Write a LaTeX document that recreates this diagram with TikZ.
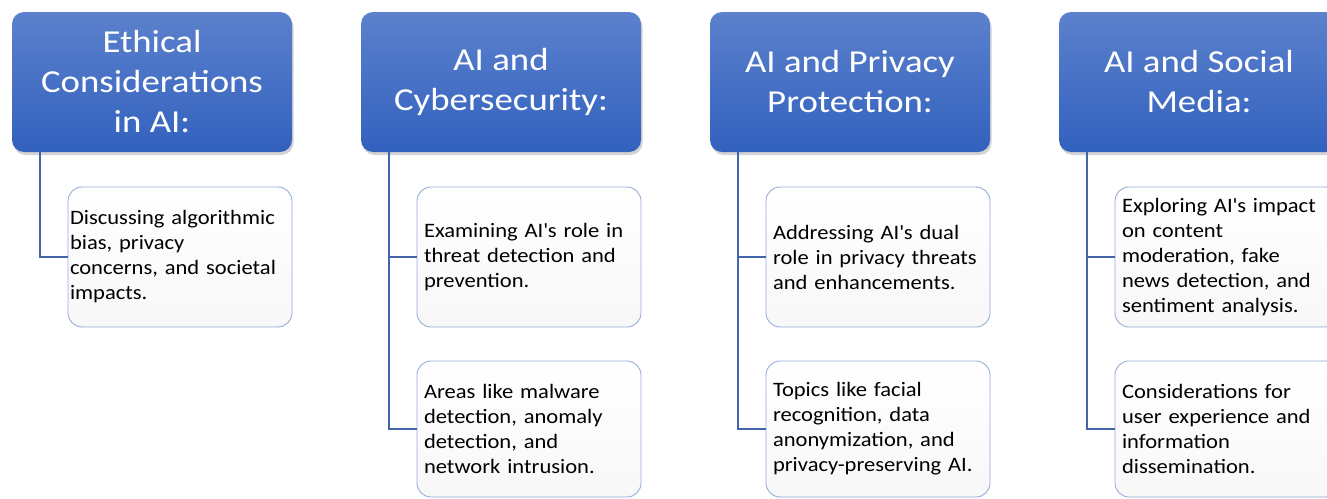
\documentclass[tikz,border=0pt]{standalone}
\usepackage{fontspec}
\setmainfont{Carlito}[FakeStretch=1.15]
\newfontfamily\childfont{Carlito}[FakeStretch=1.10]
\newcommand\childtext{\childfont\fontsize{20.5}{25}\selectfont\hyphenpenalty=10000 \exhyphenpenalty=10000\relax}
\usetikzlibrary{shadows}
\definecolor{HeaderTop}{RGB}{92,129,205}
\definecolor{HeaderBottom}{RGB}{50,97,190}
\definecolor{ChildLine}{RGB}{150,172,215}
\definecolor{LinkLine}{RGB}{68,100,170}
\tikzset{
    header box/.style={
        rounded corners=12pt, top color=HeaderTop, bottom color=HeaderBottom,
        text=white, minimum width=280pt, minimum height=140pt, align=center,
        font=\fontsize{32}{40}\selectfont,
        drop shadow={shadow xshift=1.5pt, shadow yshift=-3pt, opacity=0.35}
    },
    child box/.style={
        draw=ChildLine, line width=0.9pt, rounded corners=14pt,
        top color=white, bottom color=black!3, text=black,
        text width=210pt, inner xsep=7pt, minimum height=140pt, align=left,
        font=\childtext
    },
    link/.style={draw=LinkLine, line width=1.9pt}
}

\begin{document}
\begin{tikzpicture}[x=1pt, y=-1pt]

\useasboundingbox (0,0) rectangle (1327,498);

% Cabeceras
\node[header box] (h1) at (152, 82) {Ethical\\Considerations\\in AI:};
\node[header box] (h2) at (501, 82) {AI and\\Cybersecurity:};
\node[header box] (h3) at (850, 82) {AI and Privacy\\Protection:};
\node[header box] (h4) at (1199, 82) {AI and Social\\Media:};

% Cajas hijas
\node[child box, text width=220pt, inner xsep=2pt] (c1) at (180, 257)
    {Discussing algorithmic\\bias, privacy\\concerns, and societal\\impacts.};
\node[child box] (c2a) at (529, 257)
    {Examining AI\textquotesingle s role in\\threat detection and\\prevention.};
\node[child box, minimum height=136pt] (c2b) at (529, 429)
    {Areas like malware\\detection, anomaly\\detection, and\\network intrusion.};
\node[child box] (c3a) at (878, 257)
    {Addressing AI\textquotesingle s dual\\role in privacy threats\\and enhancements.};
\node[child box, minimum height=136pt] (c3b) at (878, 429)
    {Topics like facial\\recognition, data\\anonymization, and\\privacy-preserving AI.};
\node[child box] (c4a) at (1227, 257)
    {Exploring AI\textquotesingle s impact\\on content\\moderation, fake\\news detection, and\\sentiment analysis.};
\node[child box, minimum height=136pt] (c4b) at (1227, 429)
    {Considerations for\\user experience and\\information\\dissemination.};

% Troncos verticales bajo cada cabecera
\coordinate (s1) at ([xshift=28pt]h1.south west);
\coordinate (s2) at ([xshift=28pt]h2.south west);
\coordinate (s3) at ([xshift=28pt]h3.south west);
\coordinate (s4) at ([xshift=28pt]h4.south west);

\draw[link] (s1) |- (c1.west);
\draw[link] (s2) |- (c2a.west);
\draw[link] (s2) |- (c2b.west);
\draw[link] (s3) |- (c3a.west);
\draw[link] (s3) |- (c3b.west);
\draw[link] (s4) |- (c4a.west);
\draw[link] (s4) |- (c4b.west);

\end{tikzpicture}
\end{document}
